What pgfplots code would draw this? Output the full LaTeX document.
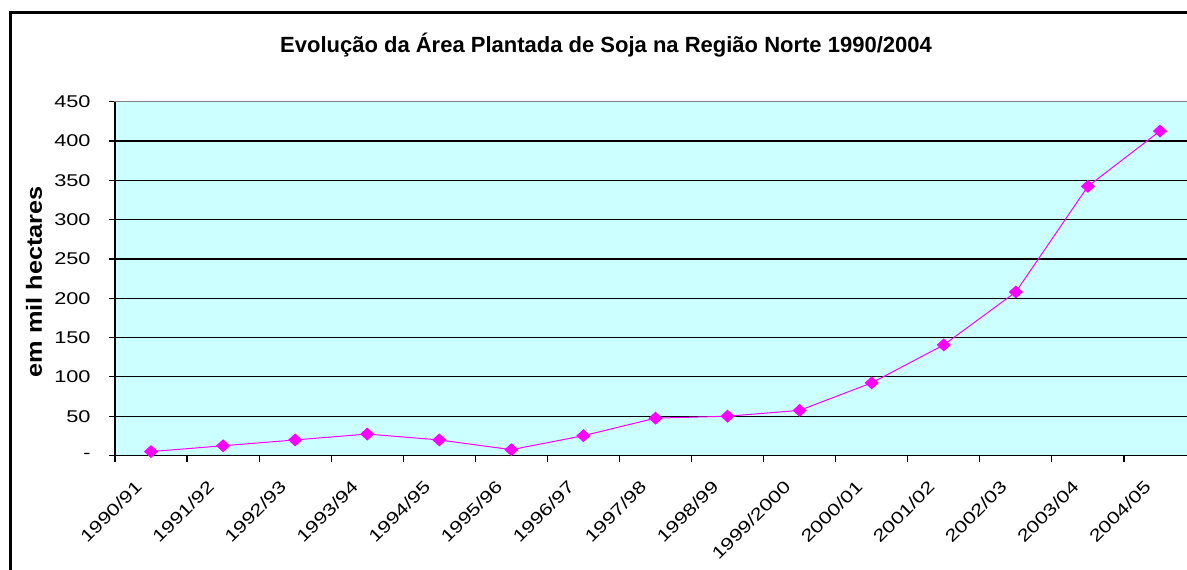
\documentclass[border=0pt]{standalone}
\usepackage{fontspec}
\setmainfont{Liberation Sans}
\newfontfamily\ylabfont{Liberation Sans}[FakeStretch=1.15]
\usepackage{graphicx}
\usepackage{pgfplots}
\pgfplotsset{compat=1.18}
\definecolor{plotbg}{HTML}{CCFFFF}
\definecolor{mag}{HTML}{FF00FF}
\newcommand\tl[1]{\scalebox{1.28}[1]{\fontsize{8.5pt}{10pt}\selectfont #1}}
\begin{document}
\begin{tikzpicture}
\path[use as bounding box] (0,0) rectangle (593.5pt,284.5pt);
\draw[line width=1.5pt] (5pt,-5pt) -- (5pt,278pt) -- (600pt,278pt);
\node[font=\bfseries\fontsize{11pt}{13pt}\selectfont] at (303pt,262pt) {Evolução da Área Plantada de Soja na Região Norte 1990/2004};
\node[rotate=90,font=\ylabfont\bfseries\fontsize{11pt}{13pt}\selectfont] at (17pt,143.6pt) {em mil hectares};
\begin{axis}[
  at={(57.5pt,56.75pt)}, anchor=south west,
  scale only axis, width=540.5pt, height=176.9pt,
  xmin=-0.5, xmax=14.5, ymin=0, ymax=450,
  axis background/.style={fill=plotbg},
  axis line style={draw=gray, line width=0.6pt},
  ytick={0,50,...,450},
  yticklabels={\tl{-},\tl{50},\tl{100},\tl{150},\tl{200},\tl{250},\tl{300},\tl{350},\tl{400},\tl{450}},
  yticklabel style={anchor=east, inner sep=0pt, xshift=-9pt},
  ymajorgrids,
  major grid style={black, line width=0.6pt},
  tick align=outside,
  xtick pos=bottom, ytick pos=left,
  major tick length=3pt,
  tick style={black, line width=0.6pt},
  xtick={-0.5,0.5,...,14.5},
  xticklabels={},
  extra x ticks={0,1,...,14},
  extra x tick labels={\tl{1990/91},\tl{1991/92},\tl{1992/93},\tl{1993/94},\tl{1994/95},\tl{1995/96},\tl{1996/97},\tl{1997/98},\tl{1998/99},\tl{1999/2000},\tl{2000/01},\tl{2001/02},\tl{2002/03},\tl{2003/04},\tl{2004/05}},
  extra x tick style={major tick length=0pt, tick style={draw=none},
    xticklabel style={inner sep=0pt, xshift=-6pt, yshift=-14pt, rotate=45, anchor=east}},
  clip=false,
]
\addplot[mag, line width=0.5pt, mark=diamond*, mark size=2.9pt, mark options={xscale=1.45, fill=mag, draw=mag}] coordinates {
(0,5.0) (1,12.4) (2,19.8) (3,27.3) (4,19.8) (5,7.4) (6,25.2) (7,47.5)
(8,50.0) (9,57.4) (10,92.4) (11,140.7) (12,208) (13,342.4) (14,412.7)
};
\draw[black, line width=0.7pt] (rel axis cs:0,1) -- (rel axis cs:0,0) -- (rel axis cs:1,0);
\end{axis}
\end{tikzpicture}
\end{document}
